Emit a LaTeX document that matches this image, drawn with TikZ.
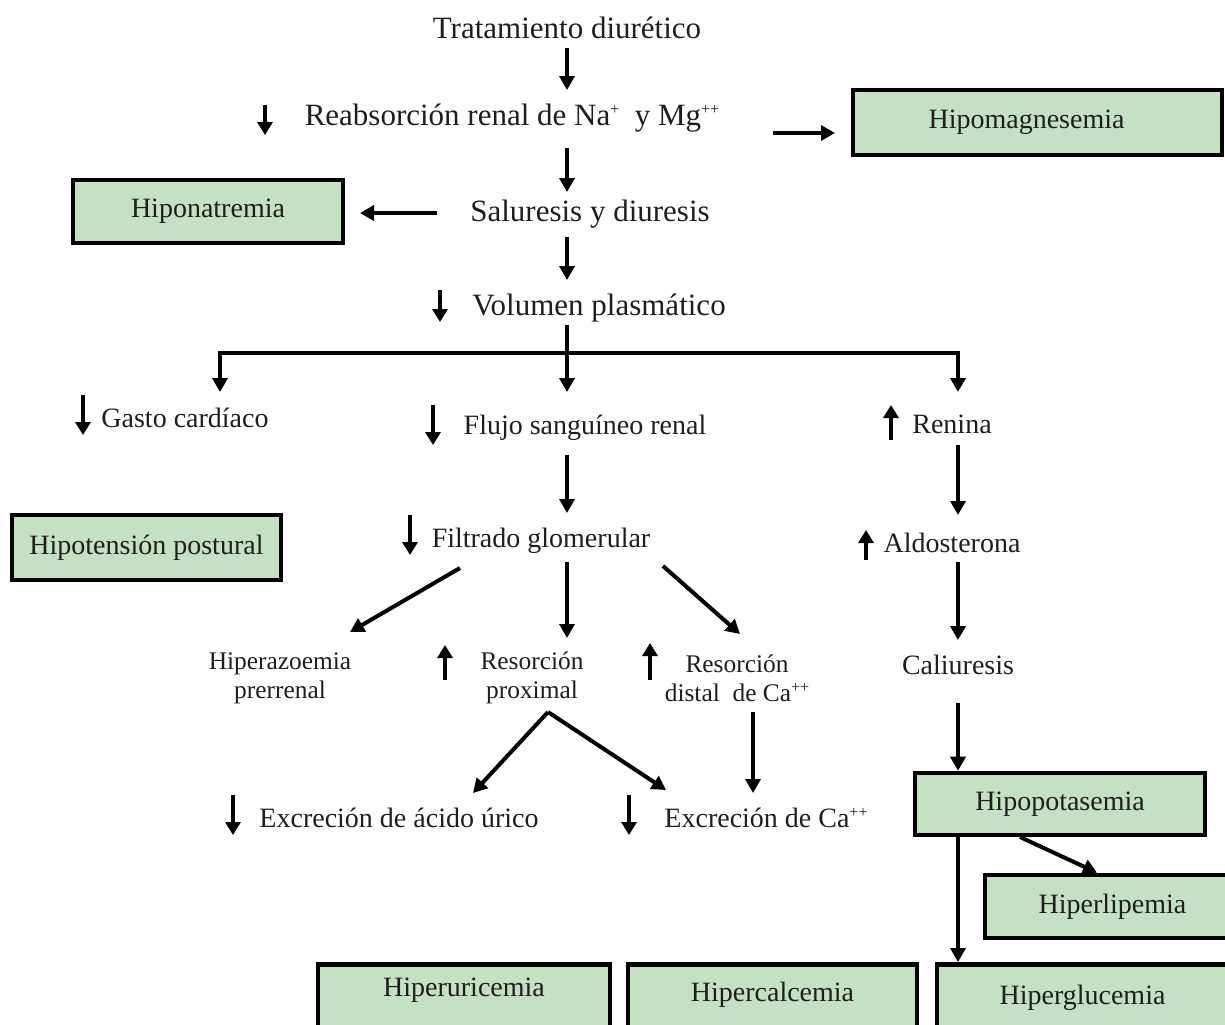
\documentclass[tikz,border=0pt]{standalone}
\usepackage{fontspec}
\setmainfont{Liberation Serif}
\usetikzlibrary{arrows.meta}
\definecolor{boxg}{RGB}{196,226,195}
\definecolor{txtc}{RGB}{30,30,30}
\newcommand{\sups}[1]{\raisebox{0.75ex}{\fontsize{8}{8}\selectfont #1}}
\tikzset{
  x=0.5pt, y=-0.5pt,
  txt/.style={inner sep=0pt, text=txtc, font=\fontsize{14}{16}\selectfont},
  bigtxt/.style={txt, font=\fontsize{15.5}{18}\selectfont},
  smalltxt/.style={inner sep=0pt, text=txtc, align=center, font=\fontsize{12.7}{14.5}\selectfont},
  gbox/.style={draw=black, line width=2.3pt, fill=boxg, text=txtc, inner sep=0pt,
    font=\fontsize{14}{16}\selectfont},
  arr/.style={line width=2pt, -{Triangle[length=7pt,width=7.5pt]}},
  sym/.style={line width=2pt, -{Triangle[length=6.5pt,width=7.5pt]}},
  plain/.style={line width=2pt}
}
\begin{document}
\begin{tikzpicture}
\useasboundingbox (0,0) rectangle (1225,1024);

% text nodes
\node[bigtxt] (trat) at (567,28) {Tratamiento diurético};
\node[bigtxt] (reab) at (512,118) {Reabsorción renal de Na\sups{+}\ \ y Mg\sups{++}};
\node[bigtxt] (sal) at (590,214) {Saluresis y diuresis};
\node[bigtxt] (vol) at (599,308) {Volumen plasmático};
\node[txt] (gasto) at (185,418) {Gasto cardíaco};
\node[txt] (flujo) at (585,428) {Flujo sanguíneo renal};
\node[txt] (renina) at (952,424) {Renina};
\node[txt] (filt) at (541,541) {Filtrado glomerular};
\node[txt] (aldo) at (952,543) {Aldosterona};
\node[txt] (cali) at (958,665) {Caliuresis};
\node[smalltxt] (hiperaz) at (280,678) {Hiperazoemia\\prerrenal};
\node[smalltxt] (resprox) at (532,678) {Resorción\\proximal};
\node[smalltxt] (resdist) at (737,678) {Resorción\\distal\ \ de Ca\sups{++}};
\node[txt] (excur) at (399,818) {Excreción de ácido úrico};
\node[txt] (excca) at (766,818) {Excreción de Ca\sups{++}};

% boxes
\node[gbox, minimum width=184.5pt, minimum height=32.5pt] (hipomag) at (1037.5,122.5) {\hspace*{-11pt}Hipomagnesemia};
\node[gbox, minimum width=135pt, minimum height=31.5pt] (hiponat) at (208,211.5) {Hiponatremia};
\node[gbox, minimum width=134.5pt, minimum height=32.5pt] (hipot) at (146.5,547.5) {Hipotensión postural};
\node[gbox, minimum width=145pt, minimum height=31pt] (hipopot) at (1060,804) {Hipopotasemia};
\node[gbox, minimum width=121.5pt, minimum height=31.5pt] (hiperlip) at (1106.5,906.5) {\hspace*{6pt}Hiperlipemia};
\node[gbox, anchor=north, minimum width=146pt, text height=16pt, text depth=25pt] (hiperuri) at (464,962) {Hiperuricemia};
\node[gbox, anchor=north, minimum width=144.5pt, text height=18.5pt, text depth=25pt] (hipercal) at (772.5,962) {Hipercalcemia};
\node[gbox, anchor=north, minimum width=145.5pt, text height=20pt, text depth=25pt] (hiperglu) at (1082.5,962) {Hiperglucemia};

% junction coordinates
\coordinate (split) at (567,353);
\coordinate (barL) at (220,353);
\coordinate (barR) at (958,353);

% connectors
\draw[arr] ([shift={(0,20)}]trat.center) -- ([shift={(55,-28)}]reab.center);
\draw[arr] ([shift={(261,15)}]reab.center) -- ([shift={(-202.5,10.5)}]hipomag.center);
\draw[arr] ([shift={(55,30)}]reab.center) -- ([shift={(-23,-22)}]sal.center);
\draw[arr] ([shift={(-153,-1)}]sal.center) -- ([shift={(152,1.5)}]hiponat.center);
\draw[arr] ([shift={(-23,23)}]sal.center) -- ([shift={(-32,-28)}]vol.center);
\draw[plain] ([shift={(-32,17)}]vol.center) -- (split);
\draw[plain, line cap=rect] (barL) -- (barR);
\draw[arr] (split) -- ([shift={(-18,-36)}]flujo.center);
\draw[arr] (barL) -- ([shift={(35,-26)}]gasto.center);
\draw[arr] (barR) -- ([shift={(6,-32)}]renina.center);
\draw[arr] ([shift={(-18,27)}]flujo.center) -- ([shift={(26,-28)}]filt.center);
\draw[arr] ([shift={(6,21)}]renina.center) -- ([shift={(6,-28)}]aldo.center);
\draw[arr] ([shift={(6,19)}]aldo.center) -- ([shift={(0,-25)}]cali.center);
\draw[arr] ([shift={(-81,27)}]filt.center) -- ([shift={(70,-46)}]hiperaz.center);
\draw[arr] ([shift={(26,21)}]filt.center) -- ([shift={(35,-40)}]resprox.center);
\draw[arr] ([shift={(122,25)}]filt.center) -- ([shift={(3,-44)}]resdist.center);
\draw[arr] ([shift={(16,34)}]resprox.center) -- ([shift={(74,-25)}]excur.center);
\draw[arr] ([shift={(16,34)}]resprox.center) -- ([shift={(-100,-28)}]excca.center);
\draw[arr] ([shift={(16,34)}]resdist.center) -- ([shift={(-13,-25)}]excca.center);
\draw[arr] ([shift={(0,38)}]cali.center) -- (cali |- hipopot.north);
\draw[arr] (cali |- hipopot.south) -- (cali |- hiperglu.north);
\draw[arr] ([shift={(-40,33)}]hipopot.center) -- ([shift={(-9.5,0)}]hiperlip.north);

% up/down symbols
\draw[sym] ([shift={(-247,-13)}]reab.center) -- ([shift={(-247,17)}]reab.center);
\draw[sym] ([shift={(-159,-18)}]vol.center) -- ([shift={(-159,14)}]vol.center);
\draw[sym] ([shift={(-102,-23)}]gasto.center) -- ([shift={(-102,17)}]gasto.center);
\draw[sym] ([shift={(-152,-23)}]flujo.center) -- ([shift={(-152,17)}]flujo.center);
\draw[sym] ([shift={(-61,16)}]renina.center) -- ([shift={(-61,-19)}]renina.center);
\draw[sym] ([shift={(-131,-26)}]filt.center) -- ([shift={(-131,14)}]filt.center);
\draw[sym] ([shift={(-86,17)}]aldo.center) -- ([shift={(-86,-13)}]aldo.center);
\draw[sym] ([shift={(-87,2)}]resprox.center) -- ([shift={(-87,-33)}]resprox.center);
\draw[sym] ([shift={(-87,2)}]resdist.center) -- ([shift={(-87,-35)}]resdist.center);
\draw[sym] ([shift={(-166,-23)}]excur.center) -- ([shift={(-166,17)}]excur.center);
\draw[sym] ([shift={(-137,-23)}]excca.center) -- ([shift={(-137,17)}]excca.center);
\end{tikzpicture}
\end{document}
